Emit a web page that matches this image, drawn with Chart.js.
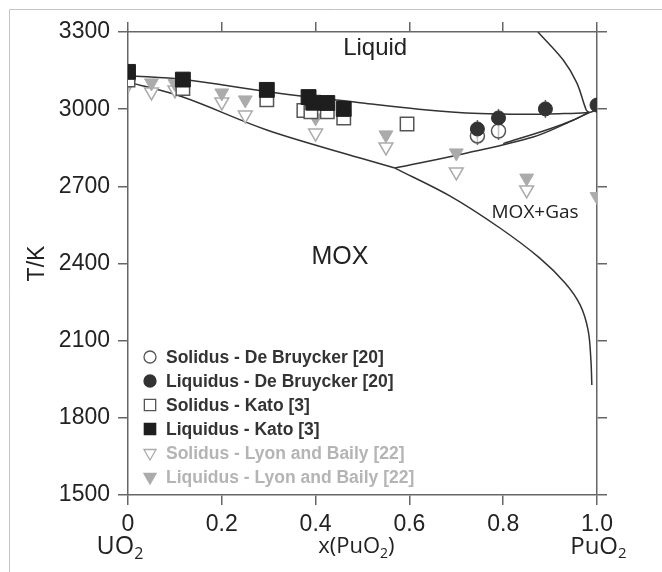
<!DOCTYPE html>
<html>
<head>
<meta charset="utf-8">
<script src="https://cdn.jsdelivr.net/npm/chart.js@4/dist/chart.umd.min.js"></script>
<style>
  body { margin: 0; background: #fff; }
  #wrap { width: 662px; height: 572px; }
</style>
</head>
<body>
<div id="wrap"><canvas id="myChart" width="662" height="572"></canvas></div>
<script>
// measured points, x = mole fraction PuO2, T in K
var solBruyX = [0.745, 0.79];
var solBruyT = [2896, 2915];
var liqBruyX = [0.745, 0.79, 0.89, 1.0];
var liqBruyT = [2923, 2966, 3001, 3016];
var bruyErr = 35;

var solKatoX = [0, 0.117, 0.296, 0.375, 0.39, 0.425, 0.46, 0.595];
var solKatoT = [3113, 3080, 3036, 2995, 2990, 2990, 2966, 2942];
var liqKatoX = [0, 0.117, 0.296, 0.385, 0.395, 0.425, 0.46];
var liqKatoT = [3145, 3115, 3075, 3047, 3025, 3024, 3001];

var solLyonX = [0, 0.05, 0.1, 0.2, 0.25, 0.4, 0.55, 0.7, 0.85];
var solLyonT = [3095, 3067, 3075, 3028, 2977, 2907, 2853, 2756, 2686];
var liqLyonX = [0, 0.05, 0.1, 0.2, 0.25, 0.4, 0.55, 0.7, 0.85, 1.0];
var liqLyonT = [3105, 3102, 3100, 3063, 3036, 2966, 2900, 2830, 2732, 2660];

// calculated phase boundaries
var liqCurveX = [0, 0.12, 0.3, 0.5, 0.62, 0.75, 0.85, 0.93, 0.983, 1.0];
var liqCurveT = [3130, 3115, 3067, 3024, 3000, 2983, 2980, 2983, 2987, 2998];
var solCurveX = [0, 0.117, 0.296, 0.495, 0.569];
var solCurveT = [3106, 3047, 2919, 2810, 2771];
var gasUpX = [0.569, 0.723, 0.864, 0.936, 0.983];
var gasUpT = [2771, 2830, 2892, 2946, 2987];
var gasUp2X = [0.8, 0.9, 0.95, 0.983];
var gasUp2T = [2866, 2924, 2958, 2987];
var gasLowX = [0.569, 0.687, 0.793, 0.878, 0.932, 0.964, 0.981, 0.987, 0.989];
var gasLowT = [2771, 2662, 2538, 2421, 2324, 2239, 2141, 2025, 1928];
var gasTopX = [0.874, 0.928, 0.957, 0.977, 0.983];
var gasTopT = [3300, 3191, 3102, 2997, 2987];

var xTicks = [0, 0.2, 0.4, 0.6, 0.8, 1.0];
var yTicks = [1500, 1800, 2100, 2400, 2700, 3000, 3300];

function pts(xs, ys) {
  return xs.map(function (x, i) { return { x: x, y: ys[i] }; });
}

function curve(xs, ys) {
  return {
    data: pts(xs, ys), showLine: true, pointRadius: 0, borderColor: '#333',
    borderWidth: 1.5, tension: 0.35, fill: false, order: 10, legend: false
  };
}

var dark = '#1e1e1e', grey = '#ababab';

var datasets = [
  { label: 'Solidus - De Bruycker [20]', data: pts(solBruyX, solBruyT), pointStyle: 'circle', pointRadius: 7,
    backgroundColor: 'rgba(255,255,255,0.6)', borderColor: '#555', borderWidth: 1.5, order: 2, legend: true, textColor: '#333', err: true },
  { label: 'Liquidus - De Bruycker [20]', data: pts(liqBruyX, liqBruyT), pointStyle: 'circle', pointRadius: 7,
    backgroundColor: '#333', borderColor: '#333', borderWidth: 1, order: 1, legend: true, textColor: '#333', err: true },
  { label: 'Solidus - Kato [3]', data: pts(solKatoX, solKatoT), pointStyle: 'rect', pointRadius: 9.5,
    backgroundColor: '#fff', borderColor: '#555', borderWidth: 1.5, order: 4, legend: true, textColor: '#333' },
  { label: 'Liquidus - Kato [3]', data: pts(liqKatoX, liqKatoT), pointStyle: 'rect', pointRadius: 10.5,
    backgroundColor: dark, borderColor: dark, borderWidth: 1, order: 3, legend: true, textColor: '#333' },
  { label: 'Solidus - Lyon and Baily [22]', data: pts(solLyonX, solLyonT), pointStyle: 'triangle', rotation: 180, pointRadius: 8,
    backgroundColor: '#fff', borderColor: grey, borderWidth: 1.5, order: 6, legend: true, textColor: '#b4b4b4' },
  { label: 'Liquidus - Lyon and Baily [22]', data: pts(liqLyonX, liqLyonT), pointStyle: 'triangle', rotation: 180, pointRadius: 8,
    backgroundColor: grey, borderColor: grey, borderWidth: 1, order: 5, legend: true, textColor: '#b4b4b4' },
  curve(liqCurveX, liqCurveT),
  curve(solCurveX, solCurveT),
  curve(gasUpX, gasUpT),
  curve(gasUp2X, gasUp2T),
  curve(gasLowX, gasLowT),
  curve(gasTopX, gasTopT)
];

var axisCol = '#666';

var extras = {
  id: 'extras',
  beforeDraw: function (chart) {
    var ctx = chart.ctx;
    ctx.save();
    ctx.strokeStyle = '#c4c4c4';
    ctx.lineWidth = 1;
    ctx.beginPath();
    ctx.moveTo(9.5, chart.height);
    ctx.lineTo(9.5, 9.5);
    ctx.lineTo(chart.width, 9.5);
    ctx.stroke();
    ctx.restore();
  },
  beforeDatasetsDraw: function (chart) {
    var ctx = chart.ctx, xs = chart.scales.x, ys = chart.scales.y;
    ctx.save();
    ctx.beginPath();
    ctx.rect(chart.chartArea.left, chart.chartArea.top, chart.chartArea.width, chart.chartArea.height);
    ctx.clip();
    ctx.strokeStyle = '#666';
    ctx.lineWidth = 1.5;
    chart.data.datasets.forEach(function (ds) {
      if (!ds.err) return;
      ds.data.forEach(function (p) {
        var px = xs.getPixelForValue(p.x);
        ctx.beginPath();
        ctx.moveTo(px, ys.getPixelForValue(p.y - bruyErr));
        ctx.lineTo(px, ys.getPixelForValue(p.y + bruyErr));
        ctx.stroke();
      });
    });
    ctx.restore();
  },
  afterDraw: function (chart) {
    var ctx = chart.ctx, xs = chart.scales.x, ys = chart.scales.y, area = chart.chartArea;
    ctx.save();
    // region labels
    ctx.fillStyle = '#222';
    ctx.textAlign = 'center';
    ctx.textBaseline = 'middle';
    ctx.font = '24px "Liberation Sans", Arial, sans-serif';
    ctx.fillText('Liquid', xs.getPixelForValue(0.527), ys.getPixelForValue(3238));
    ctx.font = '25px "Liberation Sans", Arial, sans-serif';
    ctx.fillText('MOX', xs.getPixelForValue(0.452), ys.getPixelForValue(2425));
    ctx.font = '19px "Open Sans", sans-serif';
    ctx.fillText('MOX+Gas', xs.getPixelForValue(0.868), ys.getPixelForValue(2596));

    // legend
    var lx = 150, ly = 357, step = 24;
    var items = chart.data.datasets.filter(function (d) { return d.legend; });
    items.forEach(function (d, i) {
      var y = ly + i * step;
      ctx.fillStyle = d.backgroundColor;
      ctx.strokeStyle = d.borderColor;
      ctx.lineWidth = 1.3;
      var r = d.pointStyle === 'rect' ? 8 : (d.pointStyle === 'triangle' ? 7 : 6);
      Chart.helpers.drawPoint(ctx, { pointStyle: d.pointStyle, radius: r, rotation: d.rotation || 0, borderWidth: 1.3 }, lx, y);
      ctx.fillStyle = d.textColor;
      ctx.textAlign = 'left';
      ctx.font = 'bold 17.5px "Liberation Sans", Arial, sans-serif';
      ctx.fillText(d.label, lx + 16, y + 1);
    });

    // composition labels under the axis
    var by = area.bottom + 52;
    function sub(main, s, cx, size) {
      ctx.font = size + 'px "Open Sans", sans-serif';
      var w1 = ctx.measureText(main).width;
      ctx.font = Math.round(size * 0.62) + 'px "Open Sans", sans-serif';
      var w2 = ctx.measureText(s).width;
      var x0 = cx - (w1 + w2) / 2;
      ctx.textAlign = 'left';
      ctx.font = size + 'px "Open Sans", sans-serif';
      ctx.fillText(main, x0, by);
      ctx.font = Math.round(size * 0.62) + 'px "Open Sans", sans-serif';
      ctx.fillText(s, x0 + w1, by + size * 0.3);
      return x0 + w1 + w2;
    }
    ctx.fillStyle = '#222';
    ctx.textBaseline = 'middle';
    sub('UO', '2', xs.getPixelForValue(-0.017), 25);
    sub('PuO', '2', xs.getPixelForValue(1.003), 24);
    var end = sub('x(PuO', '2', xs.getPixelForValue(0.48), 22);
    ctx.font = '22px "Open Sans", sans-serif';
    ctx.fillText(')', end, by);
    ctx.restore();
  }
};

function hideTicks() { return ''; }

var tickFont = { family: '"Liberation Sans", Arial, sans-serif', size: 23 };
var gridOpt = { drawOnChartArea: false, drawTicks: true, tickLength: 10, color: axisCol, lineWidth: 1.5 };
var borderOpt = { display: true, color: axisCol, width: 1.5 };

new Chart('myChart', {
  type: 'scatter',
  data: { datasets: datasets },
  options: {
    responsive: false,
    devicePixelRatio: 1,
    animation: false,
    layout: { padding: 0 },
    plugins: { legend: { display: false }, tooltip: { enabled: false } },
    scales: {
      x: {
        type: 'linear', position: 'bottom', min: 0, max: 1,
        afterBuildTicks: function (s) { s.ticks = xTicks.map(function (v) { return { value: v }; }); },
        ticks: { font: tickFont, color: '#222', padding: 6, maxRotation: 0,
          callback: function (v) { return v === 0 ? '0' : v.toFixed(1); } },
        grid: gridOpt, border: borderOpt,
        afterFit: function (s) { s.height = 77; }
      },
      x2: {
        type: 'linear', position: 'top', min: 0, max: 1,
        afterBuildTicks: function (s) { s.ticks = xTicks.map(function (v) { return { value: v }; }); },
        ticks: { callback: hideTicks, padding: 0 },
        grid: gridOpt, border: borderOpt,
        afterFit: function (s) { s.height = 32; }
      },
      y: {
        type: 'linear', position: 'left', min: 1500, max: 3300,
        afterBuildTicks: function (s) { s.ticks = yTicks.map(function (v) { return { value: v }; }); },
        ticks: { font: tickFont, color: '#222', padding: 8, callback: function (v) { return String(v); } },
        title: { display: true, text: 'T/K', font: tickFont, color: '#222', padding: { top: 24, bottom: 0 } },
        grid: gridOpt, border: borderOpt,
        afterFit: function (s) { s.width = 128; }
      },
      y2: {
        type: 'linear', position: 'right', min: 1500, max: 3300,
        afterBuildTicks: function (s) { s.ticks = yTicks.map(function (v) { return { value: v }; }); },
        ticks: { callback: hideTicks, padding: 0 },
        grid: gridOpt, border: borderOpt,
        afterFit: function (s) { s.width = 65; }
      }
    }
  },
  plugins: [extras]
});
</script>
</body>
</html>
